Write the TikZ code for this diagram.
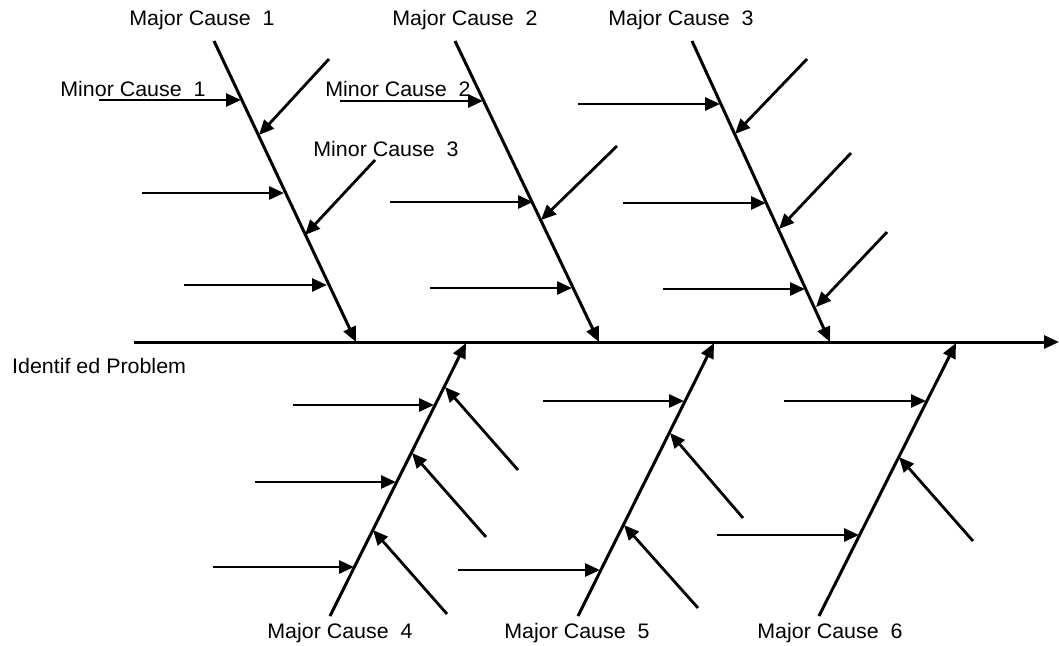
\documentclass[tikz,border=0pt]{standalone}
\usepackage{fontspec}
\setmainfont{Liberation Sans}[FakeStretch=1.02]
\usetikzlibrary{arrows.meta}
\tikzset{
  bone/.style={line width=3pt,-{Triangle[length=15pt,width=13pt]}},
  minor/.style={line width=2.8pt,-{Triangle[length=15pt,width=13pt]}},
  lbl/.style={inner sep=0pt,font=\fontsize{21}{25}\selectfont}
}
\begin{document}
\begin{tikzpicture}[x=1pt,y=-1pt]
\useasboundingbox (0,0) rectangle (1059,645);
% spine
\coordinate (s0) at (134,342);
\coordinate (s1) at (1059,342);
\draw[bone] (s0) -- (s1);
% major bones top
\coordinate (b1t) at (214,41);  \coordinate (b1b) at (356,342);
\coordinate (b2t) at (455,41);  \coordinate (b2b) at (599,342);
\coordinate (b3t) at (692,41);  \coordinate (b3b) at (830,342);
\draw[bone] (b1t) -- (b1b);
\draw[bone] (b2t) -- (b2b);
\draw[bone] (b3t) -- (b3b);
% major bones bottom
\coordinate (b4b) at (330,616); \coordinate (b4t) at (466,343);
\coordinate (b5b) at (578,616); \coordinate (b5t) at (714,343);
\coordinate (b6b) at (819,616); \coordinate (b6t) at (956,343);
\draw[bone] (b4b) -- (b4t);
\draw[bone] (b5b) -- (b5t);
\draw[bone] (b6b) -- (b6t);
% bone 1 minors
\coordinate (a1s) at (99,100);  \coordinate (a1e) at (241,100);
\coordinate (a2s) at (329,59);  \coordinate (a2e) at (259,135);
\coordinate (a3s) at (142,193); \coordinate (a3e) at (284,193);
\coordinate (a4s) at (375,160); \coordinate (a4e) at (305,235);
\coordinate (a5s) at (184,285); \coordinate (a5e) at (327,285);
\foreach \i in {1,...,5} {\draw[minor] (a\i s) -- (a\i e);}
% bone 2 minors
\coordinate (c1s) at (340,101); \coordinate (c1e) at (483,101);
\coordinate (c2s) at (617,146); \coordinate (c2e) at (541,220);
\coordinate (c3s) at (390,202); \coordinate (c3e) at (533,202);
\coordinate (c4s) at (430,288); \coordinate (c4e) at (572,288);
\foreach \i in {1,...,4} {\draw[minor] (c\i s) -- (c\i e);}
% bone 3 minors
\coordinate (d1s) at (578,104); \coordinate (d1e) at (720,104);
\coordinate (d2s) at (807,59);  \coordinate (d2e) at (735,134);
\coordinate (d3s) at (623,203); \coordinate (d3e) at (766,203);
\coordinate (d4s) at (851,153); \coordinate (d4e) at (779,229);
\coordinate (d5s) at (663,289); \coordinate (d5e) at (805,289);
\coordinate (d6s) at (887,232); \coordinate (d6e) at (816,307);
\foreach \i in {1,...,6} {\draw[minor] (d\i s) -- (d\i e);}
% bone 4 minors
\coordinate (e1s) at (293,405); \coordinate (e1e) at (434,405);
\coordinate (e2s) at (518,470); \coordinate (e2e) at (445,387);
\coordinate (e3s) at (255,482); \coordinate (e3e) at (396,482);
\coordinate (e4s) at (486,537); \coordinate (e4e) at (412,453);
\coordinate (e5s) at (213,567); \coordinate (e5e) at (354,567);
\coordinate (e6s) at (447,614); \coordinate (e6e) at (373,530);
\foreach \i in {1,...,6} {\draw[minor] (e\i s) -- (e\i e);}
% bone 5 minors
\coordinate (f1s) at (543,401); \coordinate (f1e) at (684,401);
\coordinate (f2s) at (743,518); \coordinate (f2e) at (670,433);
\coordinate (f3s) at (458,570); \coordinate (f3e) at (600,570);
\coordinate (f4s) at (698,608); \coordinate (f4e) at (624,525);
\foreach \i in {1,...,4} {\draw[minor] (f\i s) -- (f\i e);}
% bone 6 minors
\coordinate (g1s) at (784,401); \coordinate (g1e) at (926,401);
\coordinate (g2s) at (973,541); \coordinate (g2e) at (899,457);
\coordinate (g3s) at (717,535); \coordinate (g3e) at (859,535);
\foreach \i in {1,...,3} {\draw[minor] (g\i s) -- (g\i e);}
% labels
\node[lbl] (M1) at (202,20) {Major Cause~~1};
\node[lbl] (M2) at (465,20) {Major Cause~~2};
\node[lbl] (M3) at (681,20) {Major Cause~~3};
\node[lbl] (m1) at (133,89) {Minor Cause~~1};
\node[lbl] (m2) at (398,89) {Minor Cause~~2};
\node[lbl] (m3) at (386,149) {Minor Cause~~3};
\node[lbl,anchor=west] (P) at (12,366) {Identif ed Problem};
\node[lbl] (M4) at (340,633) {Major Cause~~4};
\node[lbl] (M5) at (577,633) {Major Cause~~5};
\node[lbl] (M6) at (830,633) {Major Cause~~6};
\end{tikzpicture}
\end{document}
